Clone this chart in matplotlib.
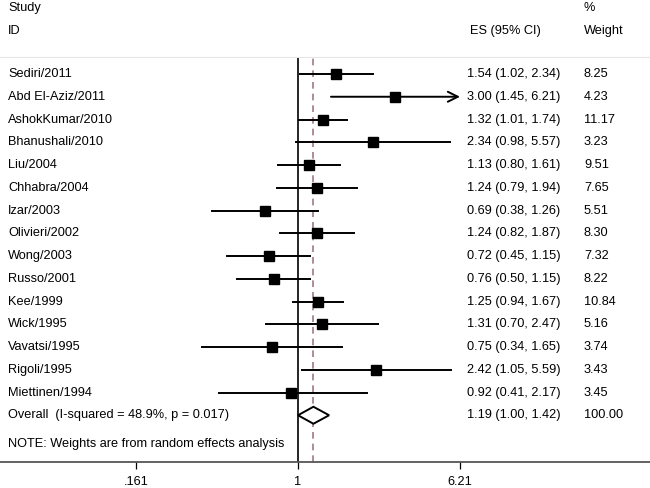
import numpy as np
import matplotlib.pyplot as plt

plt.rcParams['font.family'] = ['Liberation Sans', 'DejaVu Sans']

# study data
studies = ["Sediri/2011", "Abd El-Aziz/2011", "AshokKumar/2010", "Bhanushali/2010",
           "Liu/2004", "Chhabra/2004", "Izar/2003", "Olivieri/2002", "Wong/2003",
           "Russo/2001", "Kee/1999", "Wick/1995", "Vavatsi/1995", "Rigoli/1995",
           "Miettinen/1994"]
es = [1.54, 3.00, 1.32, 2.34, 1.13, 1.24, 0.69, 1.24, 0.72, 0.76, 1.25, 1.31, 0.75, 2.42, 0.92]
lo = [1.02, 1.45, 1.01, 0.98, 0.80, 0.79, 0.38, 0.82, 0.45, 0.50, 0.94, 0.70, 0.34, 1.05, 0.41]
hi = [2.34, 6.21, 1.74, 5.57, 1.61, 1.94, 1.26, 1.87, 1.15, 1.15, 1.67, 2.47, 1.65, 5.59, 2.17]
weight = [8.25, 4.23, 11.17, 3.23, 9.51, 7.65, 5.51, 8.30, 7.32, 8.22, 10.84, 5.16, 3.74, 3.43, 3.45]

overall_es, overall_lo, overall_hi = 1.19, 1.00, 1.42
overall_weight = 100.00
overall_label = "Overall  (I-squared = 48.9%, p = 0.017)"
xticks = [0.161, 1, 6.21]
xtick_labels = [".161", "1", "6.21"]
clip_hi = 6.21

W, H = 650, 488
fig = plt.figure(figsize=(6.5, 4.88), dpi=100)
# axes from y=57 to y=462 px (top-down), full width
ax = fig.add_axes([0, (H - 462) / H, 1, (462 - 57) / H])
ax.set_xscale('log')
px_per_ln = 88.7
ax.set_xlim(np.exp(-298 / px_per_ln), np.exp((650 - 298) / px_per_ln))
ax.set_ylim(462, 57)

row0, step = 74, 22.75
ys = [row0 + step * i for i in range(len(studies))]
y_over = row0 + step * len(studies)

fs = 9.2
lw = 1.4
tr = ax.get_yaxis_transform()  # x in axes fraction, y in data

for name, e, l, h, w, y in zip(studies, es, lo, hi, weight, ys):
    if h >= clip_hi:
        ax.annotate("", xy=(clip_hi, y), xytext=(l, y),
                    arrowprops=dict(arrowstyle='->', lw=lw, color='black',
                                    shrinkA=0, shrinkB=0, mutation_scale=18))
    else:
        ax.plot([l, h], [y, y], color='black', lw=lw)
    ax.plot(e, y, marker='s', color='black', ms=7, ls='none')
    ax.text(8 / W, y, name, transform=tr, va='center', ha='left', fontsize=fs)
    ax.text(467 / W, y, f"{e:.2f} ({l:.2f}, {h:.2f})", transform=tr,
            va='center', ha='left', fontsize=fs)
    ax.text(584 / W, y, f"{w:.2f}", transform=tr, va='center', ha='left', fontsize=fs)

# overall diamond
dh = 8.5
ax.fill([overall_lo, overall_es, overall_hi, overall_es, overall_lo],
        [y_over, y_over - dh, y_over, y_over + dh, y_over],
        facecolor='white', edgecolor='black', lw=lw, zorder=3)
ax.text(8 / W, y_over, overall_label, transform=tr, va='center', ha='left', fontsize=fs)
ax.text(467 / W, y_over, f"{overall_es:.2f} ({overall_lo:.2f}, {overall_hi:.2f})",
        transform=tr, va='center', ha='left', fontsize=fs)
ax.text(584 / W, y_over, f"{overall_weight:.2f}", transform=tr,
        va='center', ha='left', fontsize=fs)

ax.text(8 / W, 444, "NOTE: Weights are from random effects analysis", transform=tr,
        va='center', ha='left', fontsize=fs)

# reference lines
ax.axvline(1, color='black', lw=1.2, zorder=1)
ax.axvline(overall_es, color='#a07a86', lw=1.2, ls=(0, (4, 3)), zorder=1)

# headers above axes
for txt, x, y in [("Study", 8, 8), ("ID", 8, 31), ("%", 584, 8),
                  ("ES (95% CI)", 470, 31), ("Weight", 584, 31)]:
    fig.text(x / W, 1 - y / H, txt, va='center', ha='left', fontsize=fs)

ax.spines['left'].set_visible(False)
ax.spines['right'].set_visible(False)
ax.spines['top'].set_color('#e6e6e6')
ax.spines['bottom'].set_color('#555555')
ax.spines['bottom'].set_linewidth(1.3)
ax.set_yticks([])
ax.set_xticks(xticks)
ax.set_xticklabels(xtick_labels, fontsize=fs)
ax.minorticks_off()
ax.tick_params(axis='x', direction='out', length=5, width=0.9, pad=5)

fig.savefig("out.png", dpi=100)
